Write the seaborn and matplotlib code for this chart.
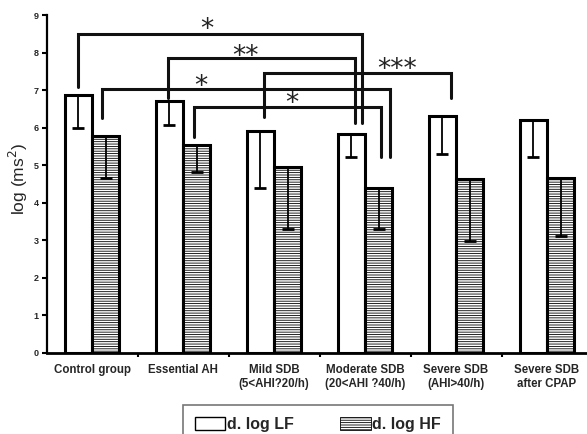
import numpy as np
import pandas as pd
import matplotlib
matplotlib.use("Agg")
import matplotlib.pyplot as plt
import matplotlib.patches as mpatches
import seaborn as sns

sns.set_style("ticks")
plt.rcParams["font.family"] = ["Liberation Sans", "DejaVu Sans"]
plt.rcParams["hatch.linewidth"] = 0.6
plt.rcParams["hatch.color"] = "#222222"

# data
groups = ["Control group", "Essential AH", "Mild SDB\n(5<AHI?20/h)",
          "Moderate SDB\n(20<AHI ?40/h)", "Severe SDB\n(AHI>40/h)", "Severe SDB\nafter CPAP"]
lf_mean = [6.88, 6.72, 5.90, 5.84, 6.30, 6.20]
lf_low = [6.00, 6.08, 4.40, 5.22, 5.30, 5.22]
hf_mean = [5.78, 5.55, 4.95, 4.40, 4.62, 4.65]
hf_low = [4.67, 4.83, 3.30, 3.30, 2.97, 3.12]
series = ["d. log LF", "d. log HF"]

# significance brackets: x left, x right, top, left leg end, right leg end, label
brackets = [
    (-0.15, 2.97, 8.50, 7.08, 6.13, "*"),
    (0.84, 2.89, 7.85, 6.78, 6.13, "**"),
    (1.89, 3.95, 7.46, 6.29, 6.78, "***"),
    (0.11, 3.27, 7.03, 6.26, 5.22, "*"),
    (1.12, 3.18, 6.55, 5.76, 5.22, "*"),
]
# centre of each star label
star_pos = [(1.26, 8.73), (1.69, 8.02), (3.35, 7.67), (1.20, 7.22), (2.20, 6.76)]

df = pd.DataFrame({
    "group": groups * 2,
    "series": [series[0]] * 6 + [series[1]] * 6,
    "value": lf_mean + hf_mean,
})

fig = plt.figure(figsize=(5.87, 4.34), dpi=100)
ax = fig.add_axes([46.5 / 587, 81 / 434, 546 / 587, 338 / 434])

sns.barplot(data=df, x="group", y="value", hue="series", order=groups,
            hue_order=series, palette=["white", "white"], width=0.6,
            edgecolor="black", linewidth=2.2, errorbar=None, legend=False,
            saturation=1, ax=ax)

lows = [lf_low, hf_low]
means = [lf_mean, hf_mean]
bar_conts = list(ax.containers)
for i, cont in enumerate(bar_conts):
    xs = [p.get_x() + p.get_width() / 2 for p in cont]
    for p in cont:
        if i == 1:
            p.set_hatch("-------")
    err = np.array(means[i]) - np.array(lows[i])
    ax.errorbar(xs, means[i], yerr=[err, np.zeros_like(err)], fmt="none",
                ecolor="black", elinewidth=1.3, capsize=4.5, capthick=2, zorder=3)

for (xl, xr, yt, yl, yr, lab), (sx, sy) in zip(brackets, star_pos):
    ax.plot([xl, xl, xr, xr], [yl, yt, yt, yr], color="#111111", lw=2.2,
            solid_joinstyle="miter", clip_on=False, zorder=4)
    ax.text(sx, sy - 0.32, lab, ha="center", va="baseline", fontsize=19,
            color="#222222", family="DejaVu Sans")

ax.set_xlim(-0.5, 5.5)
ax.set_ylim(0, 9)
ax.set_yticks(range(10))
ax.set_xticks(np.arange(6))
ax.set_xticklabels(groups, fontsize=8.3, fontweight="bold")
ax.tick_params(axis="x", length=0, pad=8)
ax.set_xticks(np.arange(0.5, 6, 1), minor=True)
ax.tick_params(axis="x", which="minor", length=3, width=1.5, color="black")
ax.tick_params(axis="y", length=3.5, width=1.5, labelsize=6.5, pad=2, color="black")
for t in ax.get_yticklabels():
    t.set_fontweight("bold")
ax.set_xlabel("")
ax.set_ylabel("log (ms$^2$)", fontsize=12.5)
ax.yaxis.set_label_coords(-0.030, 0.515)

sns.despine(ax=ax)
ax.spines["left"].set_linewidth(1.6)
ax.spines["bottom"].set_linewidth(2.0)
ax.spines["left"].set_color("black")
ax.spines["bottom"].set_color("black")

handles = [mpatches.Patch(facecolor="white", edgecolor="black", lw=1),
           mpatches.Patch(facecolor="white", edgecolor="black", lw=0.6, hatch="-------")]
leg = fig.legend(handles, series, loc="upper center", ncol=2,
                 bbox_to_anchor=(318 / 587, 1 - 405 / 434),
                 prop={"weight": "bold", "size": 11.5}, frameon=True, fancybox=False,
                 edgecolor="#555555", borderaxespad=0, handlelength=1.9,
                 handleheight=0.8, handletextpad=0.12, borderpad=0.75,
                 columnspacing=2.9)
leg.get_frame().set_linewidth(1.2)

fig.savefig("out.png", dpi=100)
